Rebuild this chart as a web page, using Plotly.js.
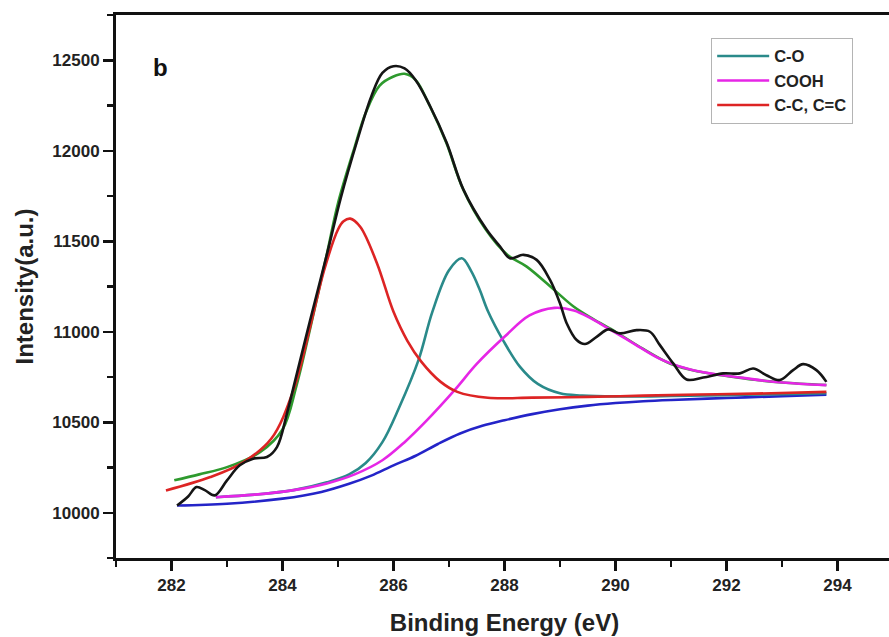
<!DOCTYPE html>
<html>
<head>
<meta charset="utf-8">
<script src="https://cdn.plot.ly/plotly-3.0.1.min.js"></script>
<style>
html,body{margin:0;padding:0;overflow:hidden;background:#fff;}
#chart{width:895px;height:637px;}
</style>
</head>
<body>
<div id="chart"></div>
<script>
// Binding energy (eV) and intensity (a.u.)
const bgX = [282.1, 283.0, 284.0, 284.7, 285.2, 285.6, 286.0, 286.4, 286.8, 287.2, 287.6, 288.0, 288.5, 289.0, 289.5, 290.0, 290.5, 291.0, 292.0, 293.0, 293.8];
const bgY = [10040, 10050, 10078, 10115, 10160, 10205, 10262, 10315, 10380, 10438, 10480, 10511, 10545, 10572, 10592, 10606, 10616, 10623, 10634, 10644, 10652];

const coX = [282.8, 283.5, 284.2, 284.8, 285.2, 285.5, 285.8, 286.1, 286.45, 286.7, 287.0, 287.23, 287.4, 287.55, 287.7, 287.98, 288.28, 288.6, 289.0, 289.4, 290.0, 291.0, 292.0, 293.0, 293.8];
const coY = [10086, 10100, 10125, 10168, 10212, 10275, 10390, 10580, 10843, 11110, 11340, 11406, 11335, 11235, 11115, 10950, 10806, 10712, 10660, 10648, 10643, 10645, 10650, 10655, 10660];

const coohX = [282.8, 283.5, 284.2, 284.8, 285.3, 285.8, 286.2, 286.6, 287.1, 287.5, 288.0, 288.45, 288.9, 289.25, 289.55, 289.85, 290.3, 290.8, 291.3, 291.8, 292.3, 292.8, 293.3, 293.8];
const coohY = [10086, 10100, 10125, 10162, 10212, 10290, 10390, 10510, 10677, 10822, 10972, 11090, 11132, 11118, 11075, 11022, 10940, 10850, 10795, 10765, 10745, 10725, 10713, 10705];

const ccX = [281.9, 282.7, 283.3, 283.8, 284.2, 284.5, 284.75, 285.0, 285.1, 285.22, 285.4, 285.7, 286.0, 286.25, 286.5, 286.85, 287.15, 287.7, 288.5, 289.5, 290.5, 291.5, 292.5, 293.8];
const ccY = [10123, 10197, 10280, 10410, 10680, 11030, 11340, 11565, 11610, 11625, 11580, 11380, 11110, 10950, 10835, 10723, 10668, 10635, 10636, 10640, 10647, 10653, 10658, 10668];

const fitX = [282.05, 282.5, 283.0, 283.6, 284.0, 284.25, 284.5, 284.8, 285.0, 285.3, 285.5, 285.75, 286.0, 286.2, 286.4, 286.65, 286.95, 287.25, 287.65, 288.05, 288.4, 288.9, 289.25, 289.6, 290.0, 290.5, 291.0, 291.5, 292.0, 292.5, 293.0, 293.8];
const fitY = [10179, 10212, 10252, 10336, 10460, 10700, 11020, 11430, 11710, 12020, 12210, 12360, 12410, 12425, 12390, 12250, 12045, 11790, 11570, 11425, 11360, 11230, 11138, 11070, 11000, 10905, 10822, 10780, 10756, 10735, 10720, 10706];

const rawX = [282.1, 282.3, 282.45, 282.6, 282.78, 283.0, 283.23, 283.47, 283.72, 283.9, 284.08, 284.23, 284.5, 284.82, 285.05, 285.35, 285.6, 285.8, 286.0, 286.2, 286.4, 286.66, 286.96, 287.26, 287.68, 287.92, 288.1, 288.34, 288.58, 288.82, 289.0, 289.12, 289.3, 289.45, 289.66, 289.87, 290.08, 290.38, 290.62, 290.8, 291.04, 291.28, 291.58, 291.94, 292.24, 292.48, 292.72, 292.96, 293.2, 293.38, 293.62, 293.8];
const rawY = [10040, 10090, 10142, 10125, 10096, 10179, 10262, 10299, 10308, 10363, 10548, 10733, 11066, 11452, 11740, 12060, 12300, 12430, 12467, 12455, 12390, 12246, 12043, 11785, 11563, 11471, 11406, 11425, 11397, 11286, 11157, 11047, 10954, 10932, 10972, 11013, 10991, 11009, 11000, 10926, 10825, 10736, 10747, 10770, 10770, 10797, 10760, 10733, 10788, 10821, 10788, 10723];

const xTicks = [282, 284, 286, 288, 290, 292, 294];
const yTicks = [10000, 10500, 11000, 11500, 12000, 12500];

const LW = 2.6;
function tr(x, y, color, name, show, group) {
  return {x: x, y: y, type: 'scatter', mode: 'lines', name: name,
    showlegend: show, legendgroup: group,
    line: {color: color, width: LW, shape: 'spline', smoothing: 1},
    hoverinfo: 'skip'};
}

const data = [
  tr(fitX, fitY, '#2e9a2e', 'Fit', false, 'g0'),
  tr(bgX, bgY, '#2424c8', 'Background', false, 'g1'),
  tr(coX, coY, '#2a8a8a', 'C-O', true, 'g2'),
  tr(coohX, coohY, '#e626e6', 'COOH', true, 'g3'),
  tr(ccX, ccY, '#dd2424', 'C-C, C=C', true, 'g4'),
  tr(rawX, rawY, '#151515', 'Raw', false, 'g5')
];

const tickFont = {family: 'Liberation Sans, Arial, sans-serif', size: 17, color: '#222', weight: 'bold'};
const layout = {
  width: 895, height: 637,
  margin: {l: 116, r: 2, t: 15, b: 79},
  paper_bgcolor: '#fff', plot_bgcolor: '#fff',
  showlegend: true,
  legend: {x: 0.766, y: 0.958, xanchor: 'left', yanchor: 'top',
    bgcolor: '#fff', bordercolor: '#b4b4b4', borderwidth: 1,
    font: {family: 'Liberation Sans, Arial, sans-serif', size: 16.5, color: '#222', weight: 'bold'},
    itemwidth: 52, tracegroupgap: 7, traceorder: 'normal'},
  xaxis: {range: [281, 295], tickvals: xTicks, ticktext: xTicks.map(String),
    showgrid: false, zeroline: false, showline: true, linecolor: '#111', linewidth: 3,
    mirror: true, ticks: 'outside', ticklen: 10, tickwidth: 2.5, tickcolor: '#111',
    tickfont: tickFont,
    minor: {dtick: 1, tick0: 281, ticks: 'outside', ticklen: 6, tickwidth: 2.5, tickcolor: '#111', showgrid: false},
    title: {text: 'Binding Energy (eV)', standoff: 20,
      font: {family: 'Liberation Sans, Arial, sans-serif', size: 24, color: '#222', weight: 'bold'}}},
  yaxis: {range: [9750, 12750], tickvals: yTicks, ticktext: yTicks.map(String),
    showgrid: false, zeroline: false, showline: true, linecolor: '#111', linewidth: 3,
    mirror: true, ticks: 'outside', ticklen: 10, tickwidth: 2.5, tickcolor: '#111',
    tickfont: tickFont,
    minor: {dtick: 250, tick0: 9750, ticks: 'outside', ticklen: 6, tickwidth: 2.5, tickcolor: '#111', showgrid: false},
    title: {text: 'Intensity(a.u.)', standoff: 12,
      font: {family: 'Liberation Sans, Arial, sans-serif', size: 24, color: '#222', weight: 'bold'}}},
  annotations: [{text: 'b', xref: 'paper', yref: 'paper', x: 0.057, y: 0.904,
    showarrow: false, xanchor: 'center', yanchor: 'middle',
    font: {family: 'Liberation Sans, Arial, sans-serif', size: 24, color: '#111', weight: 'bold'}}]
};

Plotly.newPlot('chart', data, layout, {displayModeBar: false, staticPlot: true});
</script>
</body>
</html>
